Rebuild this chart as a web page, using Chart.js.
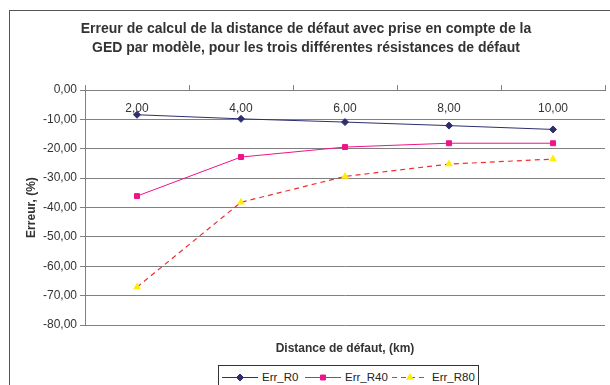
<!DOCTYPE html>
<html>
<head>
<meta charset="utf-8">
<script src="https://cdn.jsdelivr.net/npm/chart.js@4/dist/chart.umd.min.js"></script>
<style>
  html,body{margin:0;padding:0;background:#fff;overflow:hidden;width:610px;height:385px;}
  #frame{position:absolute;left:9px;top:10px;width:700px;height:400px;border:1px solid #555;box-sizing:border-box;}
  #wrap{position:absolute;left:0;top:0;width:610px;height:385px;}
  #legend{position:absolute;left:218px;top:365px;width:261px;height:24px;border:1px solid #333;box-sizing:border-box;background:#fff;
    font-family:"Liberation Sans",Arial,sans-serif;font-size:11.5px;color:#222;}
  #legend .item{position:absolute;top:4px;height:14px;display:flex;align-items:center;white-space:nowrap;}
  #legend canvas{margin-right:4px;}
</style>
</head>
<body>
<div id="frame"></div>
<div id="wrap"><canvas id="c" width="610" height="385"></canvas></div>
<div id="legend"></div>
<script>
const categories = ["2,00", "4,00", "6,00", "8,00", "10,00"];
const errR0  = [-8.4, -9.8, -10.9, -12.1, -13.4];
const errR40 = [-36.1, -22.8, -19.4, -18.1, -18.1];
const errR80 = [-67.1, -38.2, -29.4, -25.2, -23.5];
const yTicks = [0, -10, -20, -30, -40, -50, -60, -70, -80];
const seriesNames = ["Err_R0", "Err_R40", "Err_R80"];

const FONT = '"Liberation Sans", Arial, sans-serif';
const fmt = v => v.toFixed(2).replace('.', ',');

const datasets = [
  {label: seriesNames[0], data: errR0, borderColor: '#2e2e6e', backgroundColor: '#2e2e6e',
   borderWidth: 1, pointStyle: 'rectRot', pointRadius: 3.5, pointBorderWidth: 1, pointBorderColor:'#2e2e6e', pointBackgroundColor:'#2e2e6e'},
  {label: seriesNames[1], data: errR40, borderColor: '#f0138a', backgroundColor: '#f0138a',
   borderWidth: 1, pointStyle: 'rect', pointRadius: 3.5, pointBorderWidth: 1, pointBorderColor:'#f0138a', pointBackgroundColor:'#f0138a'},
  {label: seriesNames[2], data: errR80, borderColor: '#f03030', backgroundColor: '#ffee00',
   borderWidth: 1.2, borderDash: [5, 4], pointStyle: 'triangle', pointRadius: 4.5, pointBorderWidth: 0,
   pointBorderColor:'#ffee00', pointBackgroundColor:'#ffee00'}
];

const chart = new Chart(document.getElementById('c'), {
  type: 'line',
  data: {labels: categories, datasets: datasets},
  options: {
    responsive: false,
    animation: false,
    layout: {padding: {left: 5, right: 3, top: 0, bottom: 25}},
    plugins: {
      legend: {display: false},
      tooltip: {enabled: false},
      title: {
        display: true,
        text: ["Erreur de calcul de la distance de défaut avec prise en compte de la",
               "GED par modèle, pour les trois différentes résistances de défaut"],
        color: '#333',
        font: {family: FONT, size: 14, weight: 'bold', lineHeight: 1.36},
        padding: {top: 20, bottom: 27}
      }
    },
    scales: {
      x: {
        type: 'category',
        position: 'top',
        offset: true,
        grid: {display: true, drawOnChartArea: false, drawTicks: true, tickLength: 5, color: '#808080', offset: true},
        border: {display: true, color: '#808080', width: 1},
        ticks: {mirror: true, padding: 11, color: '#333', font: {family: FONT, size: 12}},
        afterFit: s => { s.height = 5; }
      },
      x2: {
        type: 'category',
        position: 'bottom',
        labels: categories,
        grid: {display: false},
        border: {display: false},
        ticks: {display: false},
        title: {display: true, text: 'Distance de défaut, (km)', color: '#333',
                font: {family: FONT, size: 12, weight: 'bold'}, padding: {top: 9, bottom: 4}},
        afterFit: s => { s.height = 35; }
      },
      y: {
        min: -80, max: 0,
        afterBuildTicks: s => { s.ticks = yTicks.map(v => ({value: v})); },
        grid: {color: '#808080', lineWidth: 1, tickLength: 5, drawTicks: true},
        border: {display: true, color: '#808080', width: 1},
        ticks: {padding: 3, color: '#333', font: {family: FONT, size: 12}, callback: v => fmt(v)},
        title: {display: true, text: 'Erreur, (%)', color: '#333',
                font: {family: FONT, size: 12, weight: 'bold'}, padding: {top: 19, bottom: 4}},
        afterFit: s => { s.width = 80; }
      }
    }
  }
});

// HTML legend built from chart datasets
const leg = document.getElementById('legend');
const itemLeft = [3, 86, 173];
chart.data.datasets.forEach((ds, i) => {
  const item = document.createElement('div');
  item.className = 'item';
  item.style.left = itemLeft[i] + 'px';
  const cv = document.createElement('canvas');
  cv.width = 36; cv.height = 12;
  const ctx = cv.getContext('2d');
  ctx.strokeStyle = ds.borderColor;
  ctx.lineWidth = ds.borderWidth;
  if (ds.borderDash) ctx.setLineDash(ds.borderDash);
  ctx.beginPath(); ctx.moveTo(0, 6.5); ctx.lineTo(36, 6.5); ctx.stroke();
  ctx.setLineDash([]);
  ctx.fillStyle = ds.pointBackgroundColor;
  ctx.strokeStyle = ds.pointBorderColor;
  Chart.helpers.drawPoint(ctx, {pointStyle: ds.pointStyle, radius: ds.pointRadius, borderWidth: ds.pointBorderWidth || 0}, 18, 6.5);
  item.appendChild(cv);
  const t = document.createElement('span');
  t.textContent = ds.label;
  item.appendChild(t);
  leg.appendChild(item);
});
</script>
</body>
</html>
